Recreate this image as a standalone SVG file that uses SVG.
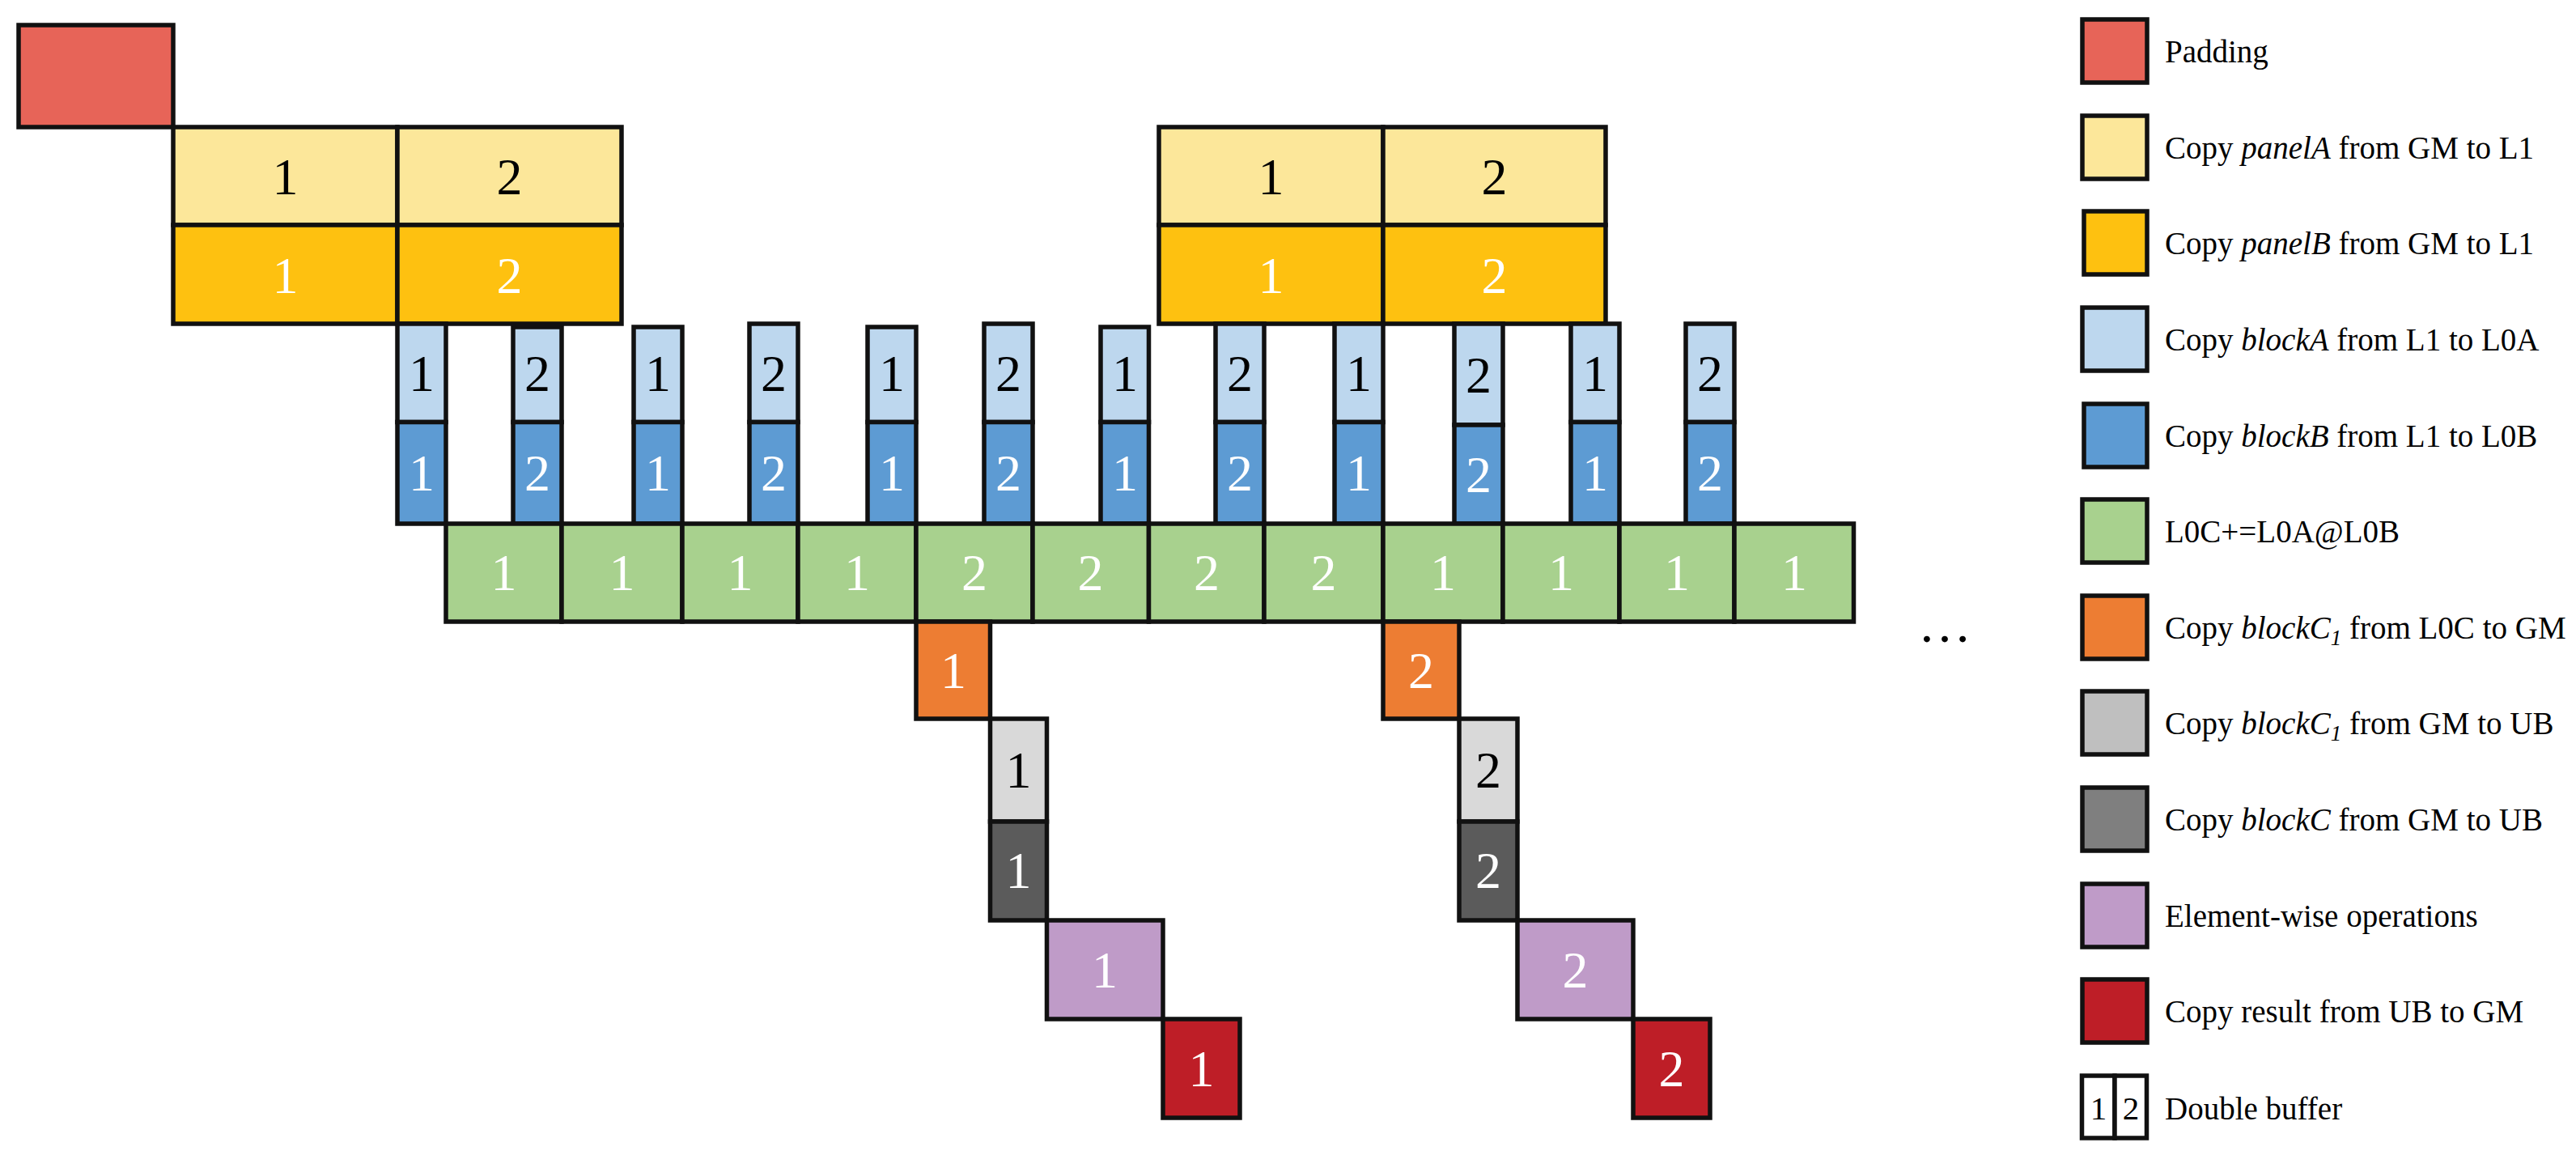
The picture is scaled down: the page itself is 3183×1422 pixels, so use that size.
<svg xmlns="http://www.w3.org/2000/svg" width="3183" height="1422" viewBox="0 0 3183 1422">
<style>
rect{stroke:#111;stroke-width:5.5}
.pad{fill:#E76458}.pa{fill:#FCE79A}.pb{fill:#FEC110}.ba{fill:#BDD7EE}.bb{fill:#5D9BD3}
.gr{fill:#A8D18E}.or{fill:#ED7D33}.lg{fill:#D9D9D9}.dg{fill:#5B5B5B}.pu{fill:#BF9BC8}.rd{fill:#BE1E27}
.lgl{fill:#BFBFBF}.dgl{fill:#7F7F7F}.wh{fill:#fff}
text{font-family:"Liberation Serif","Times New Roman",serif}
.n{font-size:64px;text-anchor:middle}
.k{fill:#000}.w{fill:#fff}
.lt{font-size:39px;fill:#000}
.i{font-style:italic}
</style>
<g id="connectors"/>
<g id="padding"><rect class="pad" x="23" y="31" width="191" height="126"/></g>
<g id="panel-group-1">
<rect class="pa" x="214" y="157" width="277" height="121"/><rect class="pa" x="491" y="157" width="277" height="121"/>
<rect class="pb" x="214" y="278" width="277" height="122"/><rect class="pb" x="491" y="278" width="277" height="122"/>
<text class="n k" x="352.5" y="240">1</text><text class="n k" x="629.5" y="240">2</text>
<text class="n w" x="352.5" y="362">1</text><text class="n w" x="629.5" y="362">2</text>
</g>
<g id="panel-group-2">
<rect class="pa" x="1432" y="157" width="277" height="121"/><rect class="pa" x="1709" y="157" width="275" height="121"/>
<rect class="pb" x="1432" y="278" width="277" height="122"/><rect class="pb" x="1709" y="278" width="275" height="122"/>
<text class="n k" x="1570.5" y="240">1</text><text class="n k" x="1846.5" y="240">2</text>
<text class="n w" x="1570.5" y="362">1</text><text class="n w" x="1846.5" y="362">2</text>
</g>
<g id="block-columns">
<g id="col1"><rect class="ba" x="491" y="400" width="60" height="121.5"/><rect class="bb" x="491" y="521.5" width="60" height="125.5"/><text class="n k" x="521" y="483">1</text><text class="n w" x="521" y="606">1</text></g>
<g id="col2"><rect class="ba" x="634" y="404" width="60" height="117.5"/><rect class="bb" x="634" y="521.5" width="60" height="125.5"/><text class="n k" x="664" y="483">2</text><text class="n w" x="664" y="606">2</text></g>
<g id="col3"><rect class="ba" x="783" y="404" width="60" height="117.5"/><rect class="bb" x="783" y="521.5" width="60" height="125.5"/><text class="n k" x="813" y="483">1</text><text class="n w" x="813" y="606">1</text></g>
<g id="col4"><rect class="ba" x="926" y="400" width="60" height="121.5"/><rect class="bb" x="926" y="521.5" width="60" height="125.5"/><text class="n k" x="956" y="483">2</text><text class="n w" x="956" y="606">2</text></g>
<g id="col5"><rect class="ba" x="1072" y="404" width="60" height="117.5"/><rect class="bb" x="1072" y="521.5" width="60" height="125.5"/><text class="n k" x="1102" y="483">1</text><text class="n w" x="1102" y="606">1</text></g>
<g id="col6"><rect class="ba" x="1216" y="400" width="60" height="121.5"/><rect class="bb" x="1216" y="521.5" width="60" height="125.5"/><text class="n k" x="1246" y="483">2</text><text class="n w" x="1246" y="606">2</text></g>
<g id="col7"><rect class="ba" x="1360" y="404" width="59.5" height="117.5"/><rect class="bb" x="1360" y="521.5" width="59.5" height="125.5"/><text class="n k" x="1390" y="483">1</text><text class="n w" x="1390" y="606">1</text></g>
<g id="col8"><rect class="ba" x="1502" y="400" width="60" height="121.5"/><rect class="bb" x="1502" y="521.5" width="60" height="125.5"/><text class="n k" x="1532" y="483">2</text><text class="n w" x="1532" y="606">2</text></g>
<g id="col9"><rect class="ba" x="1649" y="400" width="60" height="121.5"/><rect class="bb" x="1649" y="521.5" width="60" height="125.5"/><text class="n k" x="1679" y="483">1</text><text class="n w" x="1679" y="606">1</text></g>
<g id="col10"><rect class="ba" x="1797" y="400" width="60" height="125"/><rect class="bb" x="1797" y="525" width="60" height="122"/><text class="n k" x="1827" y="485">2</text><text class="n w" x="1827" y="608">2</text></g>
<g id="col11"><rect class="ba" x="1941" y="400" width="60" height="121.5"/><rect class="bb" x="1941" y="521.5" width="60" height="125.5"/><text class="n k" x="1971" y="483">1</text><text class="n w" x="1971" y="606">1</text></g>
<g id="col12"><rect class="ba" x="2083" y="400" width="60" height="121.5"/><rect class="bb" x="2083" y="521.5" width="60" height="125.5"/><text class="n k" x="2113" y="483">2</text><text class="n w" x="2113" y="606">2</text></g>
</g>
<g id="l0c-row">
<rect class="gr" x="551" y="647" width="143" height="121"/><text class="n w" x="622.5" y="729">1</text>
<rect class="gr" x="694" y="647" width="149" height="121"/><text class="n w" x="768.5" y="729">1</text>
<rect class="gr" x="843" y="647" width="143" height="121"/><text class="n w" x="914.5" y="729">1</text>
<rect class="gr" x="986" y="647" width="146" height="121"/><text class="n w" x="1059" y="729">1</text>
<rect class="gr" x="1132" y="647" width="144" height="121"/><text class="n w" x="1204" y="729">2</text>
<rect class="gr" x="1276" y="647" width="143.5" height="121"/><text class="n w" x="1347.5" y="729">2</text>
<rect class="gr" x="1419.5" y="647" width="142.5" height="121"/><text class="n w" x="1491" y="729">2</text>
<rect class="gr" x="1562" y="647" width="147" height="121"/><text class="n w" x="1635.5" y="729">2</text>
<rect class="gr" x="1709" y="647" width="148" height="121"/><text class="n w" x="1783" y="729">1</text>
<rect class="gr" x="1857" y="647" width="144" height="121"/><text class="n w" x="1929" y="729">1</text>
<rect class="gr" x="2001" y="647" width="142" height="121"/><text class="n w" x="2072" y="729">1</text>
<rect class="gr" x="2143" y="647" width="147.5" height="121"/><text class="n w" x="2217" y="729">1</text>
</g>
<g id="ellipsis"><text x="2403" y="793" style="font-size:66px;text-anchor:middle;fill:#000">…</text></g>
<g id="epilogue-1">
<rect class="or" x="1132" y="768" width="91.5" height="120"/><text class="n w" x="1178" y="850">1</text>
<rect class="lg" x="1223.5" y="888" width="70" height="127"/><text class="n k" x="1258.5" y="973">1</text>
<rect class="dg" x="1223.5" y="1015" width="70" height="122"/><text class="n w" x="1258.5" y="1097">1</text>
<rect class="pu" x="1293.5" y="1137" width="143.5" height="122"/><text class="n w" x="1365" y="1219.5">1</text>
<rect class="rd" x="1437" y="1259" width="95" height="122"/><text class="n w" x="1484.5" y="1341.5">1</text>
</g>
<g id="epilogue-2">
<rect class="or" x="1709" y="768" width="94" height="120"/><text class="n w" x="1756" y="850">2</text>
<rect class="lg" x="1803" y="888" width="72" height="127"/><text class="n k" x="1839" y="973">2</text>
<rect class="dg" x="1803" y="1015" width="72" height="122"/><text class="n w" x="1839" y="1097">2</text>
<rect class="pu" x="1875" y="1137" width="143" height="122"/><text class="n w" x="1946.5" y="1219.5">2</text>
<rect class="rd" x="2018" y="1259" width="95" height="122"/><text class="n w" x="2065.5" y="1341.5">2</text>
</g>
<g id="legend">
<g id="lg-padding"><rect class="pad" x="2573" y="24" width="80" height="78"/><text class="lt" x="2675" y="77">Padding</text></g>
<g id="lg-panelA"><rect class="pa" x="2573" y="143" width="80" height="78"/><text class="lt" x="2675" y="196">Copy <tspan class="i">panelA</tspan> from GM to L1</text></g>
<g id="lg-panelB"><rect class="pb" x="2575" y="261" width="78" height="78"/><text class="lt" x="2675" y="314">Copy <tspan class="i">panelB</tspan> from GM to L1</text></g>
<g id="lg-blockA"><rect class="ba" x="2573" y="380" width="80" height="78"/><text class="lt" x="2675" y="433">Copy <tspan class="i">blockA</tspan> from L1 to L0A</text></g>
<g id="lg-blockB"><rect class="bb" x="2575" y="499" width="78" height="78"/><text class="lt" x="2675" y="552">Copy <tspan class="i">blockB</tspan> from L1 to L0B</text></g>
<g id="lg-l0c"><rect class="gr" x="2573" y="617" width="80" height="78"/><text class="lt" x="2675" y="670">L0C+=L0A@L0B</text></g>
<g id="lg-orange"><rect class="or" x="2573" y="736" width="80" height="78"/><text class="lt" x="2675" y="789">Copy <tspan class="i">blockC</tspan><tspan class="i" font-size="27" dy="8">1</tspan><tspan dy="-8"> from L0C to GM</tspan></text></g>
<g id="lg-lightgray"><rect class="lgl" x="2573" y="854" width="80" height="78"/><text class="lt" x="2675" y="907">Copy <tspan class="i">blockC</tspan><tspan class="i" font-size="27" dy="8">1</tspan><tspan dy="-8"> from GM to UB</tspan></text></g>
<g id="lg-darkgray"><rect class="dgl" x="2573" y="973" width="80" height="78"/><text class="lt" x="2675" y="1026">Copy <tspan class="i">blockC</tspan> from GM to UB</text></g>
<g id="lg-purple"><rect class="pu" x="2573" y="1092" width="80" height="78"/><text class="lt" x="2675" y="1145">Element-wise operations</text></g>
<g id="lg-red"><rect class="rd" x="2573" y="1210" width="80" height="78"/><text class="lt" x="2675" y="1263">Copy result from UB to GM</text></g>
<g id="lg-double"><rect class="wh" x="2572.5" y="1329" width="40.5" height="77"/><rect class="wh" x="2613" y="1329" width="39.5" height="77"/>
<text x="2593" y="1383" style="font-size:41px;text-anchor:middle">1</text><text x="2633" y="1383" style="font-size:41px;text-anchor:middle">2</text>
<text class="lt" x="2675" y="1383">Double buffer</text></g>
</g>
</svg>
